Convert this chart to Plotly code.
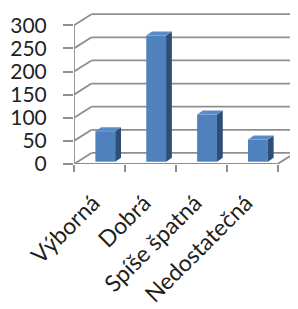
import plotly.graph_objects as go

categories = ["Výborná", "Dobrá", "Spíše špatná", "Nedostatečná"]
values = [66, 273, 102, 48]
y_ticks = [0, 50, 100, 150, 200, 250, 300]

# pseudo-3D geometry (data units)
WALL_DX, WALL_DY = 0.344, 24.0     # depth of the back wall
BAR_BASE = 5.0                      # bar sits slightly behind the front plane
BAR_OFF, BAR_W = -0.08, 0.39
SIDE_DX, SIDE_DY = 0.114, 8.7
XMAX, YMAX = 4.06, 337.4
LABEL_SHIFT = -0.12

GRID = "#8E8E8E"
fig = go.Figure()

shapes = []
left = -0.5
for v in y_ticks:
    shapes.append(dict(type="line", xref="x", yref="y", layer="below",
                       x0=left, y0=v, x1=left + WALL_DX, y1=v + WALL_DY,
                       line=dict(color=GRID, width=1.8)))
    shapes.append(dict(type="line", xref="x", yref="y", layer="below",
                       x0=left + WALL_DX, y0=v + WALL_DY, x1=XMAX, y1=v + WALL_DY,
                       line=dict(color=GRID, width=1.8)))
shapes.append(dict(type="line", xref="x", yref="y", layer="below",
                   x0=left, y0=0, x1=left, y1=y_ticks[-1],
                   line=dict(color=GRID, width=1.8)))
n = len(categories)
shapes.append(dict(type="line", xref="x", yref="y", layer="below",
                   x0=left, y0=0, x1=n - 0.5, y1=0,
                   line=dict(color=GRID, width=1.8)))
shapes.append(dict(type="line", xref="x", yref="y", layer="below",
                   x0=n - 0.5, y0=0, x1=n - 0.5 + WALL_DX, y1=WALL_DY,
                   line=dict(color=GRID, width=1.8)))

xs = list(range(n))
fig.add_trace(go.Bar(x=xs, y=values, base=BAR_BASE, offset=BAR_OFF, width=BAR_W,
                     marker=dict(color="#4F81BD", line=dict(width=0)),
                     hoverinfo="skip"))

for i, v in enumerate(values):
    xl = i + BAR_OFF
    xr = xl + BAR_W
    top = BAR_BASE + v
    fig.add_trace(go.Scatter(
        x=[xr, xr, xr + SIDE_DX, xr + SIDE_DX, xr],
        y=[BAR_BASE, top, top + SIDE_DY, BAR_BASE + SIDE_DY, BAR_BASE],
        mode="lines", fill="toself", fillcolor="#2E4E78",
        line=dict(width=0), hoverinfo="skip"))
    fig.add_trace(go.Scatter(
        x=[xl, xr, xr + SIDE_DX, xl + SIDE_DX, xl],
        y=[top, top, top + SIDE_DY, top + SIDE_DY, top],
        mode="lines", fill="toself", fillcolor="#5A8BC9",
        line=dict(width=0), hoverinfo="skip"))

YFONT = dict(family="Lato", size=21, color="#1F1F1F")
XFONT = dict(family="Lato", size=23, color="#1F1F1F")
fig.update_layout(
    width=298, height=309,
    margin=dict(l=66, r=0, t=0, b=153, autoexpand=False),
    paper_bgcolor="white", plot_bgcolor="white",
    showlegend=False, shapes=shapes, font=YFONT,
    xaxis=dict(type="linear", range=[-0.5, XMAX], showgrid=False, zeroline=False,
               showline=False, tickmode="array",
               tickvals=[i + LABEL_SHIFT for i in xs], ticktext=categories,
               ticks="", tickangle=-45, tickfont=XFONT, ticklabelstandoff=20,
               minor=dict(tickmode="linear", tick0=-0.5, dtick=1, ticks="outside",
                          ticklen=7, tickwidth=1.8, tickcolor=GRID, showgrid=False)),
    yaxis=dict(range=[0, YMAX], showgrid=False, zeroline=False, showline=False,
               tickmode="array", tickvals=y_ticks, ticks="outside", ticklen=10,
               tickwidth=1.8, tickcolor=GRID, tickfont=YFONT, ticklabelstandoff=12),
)

fig.write_html("out.html")
